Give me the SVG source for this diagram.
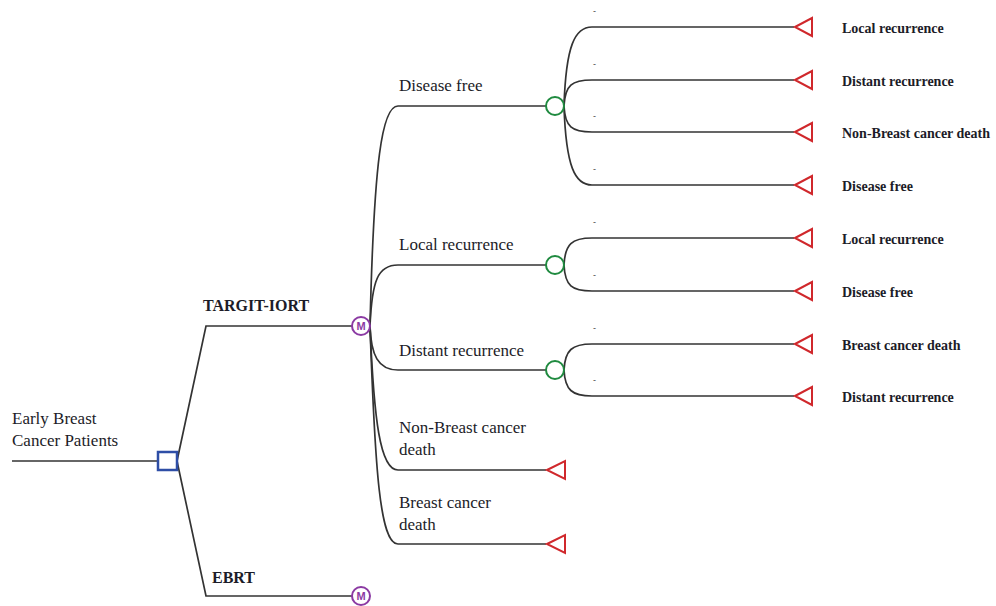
<svg xmlns="http://www.w3.org/2000/svg" width="996" height="606" viewBox="0 0 996 606">
<defs>
<style>
.ln{fill:none;stroke:#333;stroke-width:1.7}
.dec{fill:#fff;stroke:#2e4ea6;stroke-width:2.5}
.mk{fill:#fff;stroke:#8b3aa3;stroke-width:2}
.mt{font-family:"Liberation Sans",Arial,sans-serif;font-size:11px;font-weight:bold;fill:#8b3aa3;text-anchor:middle}
.ch{fill:#fff;stroke:#1f8a3f;stroke-width:2}
.tm{fill:#fff;stroke:#d0282c;stroke-width:2}
.lb{font-family:"Liberation Serif","Times New Roman",serif;font-size:17px;fill:#1c1c28}
.bl{font-family:"Liberation Serif","Times New Roman",serif;font-size:16px;font-weight:bold;fill:#1c1c28}
.rl{font-family:"Liberation Serif","Times New Roman",serif;font-size:14px;font-weight:bold;fill:#1c1c28}
.ds{font-family:"Liberation Sans",Arial,sans-serif;font-size:9px;fill:#444}
</style>
</defs>
<g id="connectors">
<path class="ln" d="M12,461 H158"/>
<path class="ln" d="M177,461 L206,326 H352"/>
<path class="ln" d="M177,461 L206,596 H352"/>
<path class="ln" d="M370,326 C374,160 382,106 398,106 H546"/>
<path class="ln" d="M370,326 C372,280 378,265 398,265 H546"/>
<path class="ln" d="M370,326 C371,355 378,370 398,370 H546"/>
<path class="ln" d="M370,326 C374,420 380,470 398,470 H546"/>
<path class="ln" d="M370,326 C375,470 380,544 398,544 H546"/>
<path class="ln" d="M564,106 C566,45 575,27 592,27 H794"/>
<path class="ln" d="M564,106 C565,85 572,80 592,80 H794"/>
<path class="ln" d="M564,106 C565,127 572,132 592,132 H794"/>
<path class="ln" d="M564,106 C566,167 575,185 592,185 H794"/>
<path class="ln" d="M564,265 C565,244 572,238 592,238 H794"/>
<path class="ln" d="M564,265 C565,286 572,291 592,291 H794"/>
<path class="ln" d="M564,370 C565,350 572,344 592,344 H794"/>
<path class="ln" d="M564,370 C565,390 572,396 592,396 H794"/>
</g>
<g id="root">
<text class="lb" x="12" y="424">Early Breast</text>
<text class="lb" x="12" y="446">Cancer Patients</text>
<rect class="dec" x="158" y="452" width="19" height="18"/>
</g>
<g id="targit">
<text class="bl" x="203" y="311">TARGIT-IORT</text>
<circle class="mk" cx="361" cy="326" r="9"/>
<text class="mt" x="361" y="330">M</text>
</g>
<g id="ebrt">
<text class="bl" x="212" y="583">EBRT</text>
<circle class="mk" cx="361" cy="596" r="9"/>
<text class="mt" x="361" y="600">M</text>
</g>
<g id="disease-free">
<text class="lb" x="399" y="91">Disease free</text>
<circle class="ch" cx="555" cy="106" r="9"/>
</g>
<g id="local-recurrence">
<text class="lb" x="399" y="250">Local recurrence</text>
<circle class="ch" cx="555" cy="265" r="9"/>
</g>
<g id="distant-recurrence">
<text class="lb" x="399" y="356">Distant recurrence</text>
<circle class="ch" cx="555" cy="370" r="9"/>
</g>
<g id="non-breast-death">
<text class="lb" x="399" y="433">Non-Breast cancer</text>
<text class="lb" x="399" y="455">death</text>
<polygon class="tm" points="547,470 565,461 565,479"/>
</g>
<g id="breast-death">
<text class="lb" x="399" y="508">Breast cancer</text>
<text class="lb" x="399" y="530">death</text>
<polygon class="tm" points="547,544 565,535 565,553"/>
</g>
<g id="df-local">
<text class="ds" x="593" y="14">-</text>
<polygon class="tm" points="795,27 812,18 812,36"/>
<text class="rl" x="842" y="33">Local recurrence</text>
</g>
<g id="df-distant">
<text class="ds" x="593" y="67">-</text>
<polygon class="tm" points="795,80 812,71 812,89"/>
<text class="rl" x="842" y="86">Distant recurrence</text>
</g>
<g id="df-nbcd">
<text class="ds" x="593" y="119">-</text>
<polygon class="tm" points="795,132 812,123 812,141"/>
<text class="rl" x="842" y="138">Non-Breast cancer death</text>
</g>
<g id="df-df">
<text class="ds" x="593" y="172">-</text>
<polygon class="tm" points="795,185 812,176 812,194"/>
<text class="rl" x="842" y="191">Disease free</text>
</g>
<g id="lr-local">
<text class="ds" x="593" y="225">-</text>
<polygon class="tm" points="795,238 812,229 812,247"/>
<text class="rl" x="842" y="244">Local recurrence</text>
</g>
<g id="lr-df">
<text class="ds" x="593" y="278">-</text>
<polygon class="tm" points="795,291 812,282 812,300"/>
<text class="rl" x="842" y="297">Disease free</text>
</g>
<g id="dr-bcd">
<text class="ds" x="593" y="331">-</text>
<polygon class="tm" points="795,344 812,335 812,353"/>
<text class="rl" x="842" y="350">Breast cancer death</text>
</g>
<g id="dr-distant">
<text class="ds" x="593" y="383">-</text>
<polygon class="tm" points="795,396 812,387 812,405"/>
<text class="rl" x="842" y="402">Distant recurrence</text>
</g>
</svg>
